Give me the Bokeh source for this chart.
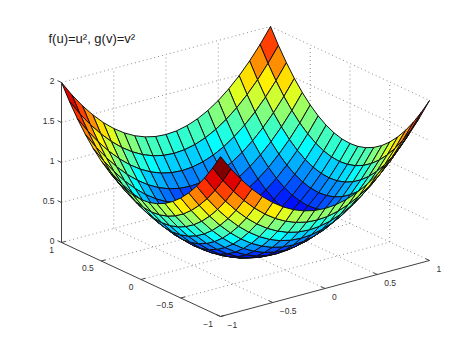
from bokeh.plotting import figure
from bokeh.embed import file_html
from bokeh.resources import INLINE
from bokeh.models import ColumnDataSource, Range1d
from bokeh.transform import linear_cmap
from bokeh.core.properties import value

# --- data -------------------------------------------------------------
u_values = [-1.0, -0.9, -0.8, -0.7, -0.6, -0.5, -0.4, -0.3, -0.2, -0.1, 0.0,
            0.1, 0.2, 0.3, 0.4, 0.5, 0.6, 0.7, 0.8, 0.9, 1.0]
v_values = list(u_values)
f_values = [1.0, 0.81, 0.64, 0.49, 0.36, 0.25, 0.16, 0.09, 0.04, 0.01, 0.0,
            0.01, 0.04, 0.09, 0.16, 0.25, 0.36, 0.49, 0.64, 0.81, 1.0]
g_values = list(f_values)
x_ticks = [-1, -0.5, 0, 0.5, 1]
y_ticks = [-1, -0.5, 0, 0.5, 1]
z_ticks = [0, 0.5, 1, 1.5, 2]
x_tick_labels = ["\u22121", "\u22120.5", "0", "0.5", "1"]
y_tick_labels = ["\u22121", "\u22120.5", "0", "0.5", "1"]
z_tick_labels = ["0", "0.5", "1", "1.5", "2"]
title_text = "f(u)=u\u00b2, g(v)=v\u00b2"


# --- orthographic view of the box, in screen units ---------------------
def proj(x, y, z):
    return (220 + (x + 1) * 104.5 - (y + 1) * 79.5,
            316 - (x + 1) * 28 - (y + 1) * 37 - z * 80)


def jet(n=64):
    out = []
    for i in range(n):
        t = (i + 1) / n
        r = max(0.0, min(1.0, min(4 * t - 1.5, 4.5 - 4 * t)))
        g = max(0.0, min(1.0, min(4 * t - 0.5, 3.5 - 4 * t)))
        b = max(0.0, min(1.0, min(4 * t + 0.5, 2.5 - 4 * t)))
        out.append("#%02x%02x%02x" % (round(r * 255), round(g * 255), round(b * 255)))
    return out


p = figure(width=458, height=339, output_backend="svg", toolbar_location=None,
           x_range=Range1d(0, 458), y_range=Range1d(339, 0), min_border=0,
           outline_line_color=None, background_fill_color="white")
p.axis.visible = False
p.grid.visible = False

# --- dotted grid on floor and back walls --------------------------------
xs, ys = [], []


def add(a, b):
    pa, pb = proj(*a), proj(*b)
    xs.append([pa[0], pb[0]])
    ys.append([pa[1], pb[1]])


for t in x_ticks:
    if t != -1:
        add((t, -1, 0), (t, 1, 0))
        add((t, 1, 0), (t, 1, 2))
for t in y_ticks:
    if t != -1:
        add((-1, t, 0), (1, t, 0))
        add((1, t, 0), (1, t, 2))
for t in z_ticks:
    if t != 0:
        add((-1, 1, t), (1, 1, t))
        add((1, 1, t), (1, -1, t))
p.multi_line(xs, ys, line_color="#808080", line_width=0.9, line_dash="1 3")

# --- surface, painted back to front --------------------------------------
qx, qy, qz = [], [], []
n = len(u_values) - 1
for i in range(n - 1, -1, -1):
    for j in range(n - 1, -1, -1):
        corners = [(i, j), (i + 1, j), (i + 1, j + 1), (i, j + 1)]
        pts = [proj(u_values[a], v_values[b], f_values[a] + g_values[b]) for a, b in corners]
        qx.append([q[0] for q in pts])
        qy.append([q[1] for q in pts])
        qz.append(f_values[i] + g_values[j])
src = ColumnDataSource(dict(x=qx, y=qy, z=qz))
p.patches("x", "y", source=src,
          fill_color=linear_cmap("z", jet(), 0, 2),
          line_color="#101010", line_width=1)

# --- solid axes and ticks -------------------------------------------------
ax, ay = [], []


def axis_seg(a, b):
    pa, pb = proj(*a), proj(*b)
    ax.append([pa[0], pb[0]])
    ay.append([pa[1], pb[1]])


axis_seg((-1, -1, 0), (1, -1, 0))
axis_seg((-1, -1, 0), (-1, 1, 0))
axis_seg((-1, 1, 0), (-1, 1, 2))
for t in x_ticks:
    axis_seg((t, -1, 0), (t, -0.95, 0))
for t in y_ticks:
    axis_seg((-1, t, 0), (-0.96, t, 0))
for t in z_ticks:
    axis_seg((-1, 1, t), (-1, 1.05, t))
p.multi_line(ax, ay, line_color="#404040", line_width=1)

# --- tick labels -----------------------------------------------------------
common = dict(text_font=value("Liberation Sans"), text_font_size="8.5px",
              text_color="#303030", text_baseline="middle")
pts = [proj(t, -1, 0) for t in x_ticks]
p.text([q[0] for q in pts], [q[1] for q in pts], text=x_tick_labels,
       x_offset=7, y_offset=8, text_align="left", **common)
pts = [proj(-1, t, 0) for t in y_ticks]
p.text([q[0] for q in pts], [q[1] for q in pts], text=y_tick_labels,
       x_offset=-7.5, y_offset=7, text_align="right", **common)
pts = [proj(-1, 1, t) for t in z_ticks]
p.text([q[0] for q in pts], [q[1] for q in pts], text=z_tick_labels,
       x_offset=-7, y_offset=-2, text_align="right", **common)

p.text([48], [38], text=[title_text], text_font=value("Liberation Sans"),
       text_font_size="13px", text_color="#202020", text_baseline="middle", text_align="left")

open("out.html", "w").write(file_html(p, INLINE))
